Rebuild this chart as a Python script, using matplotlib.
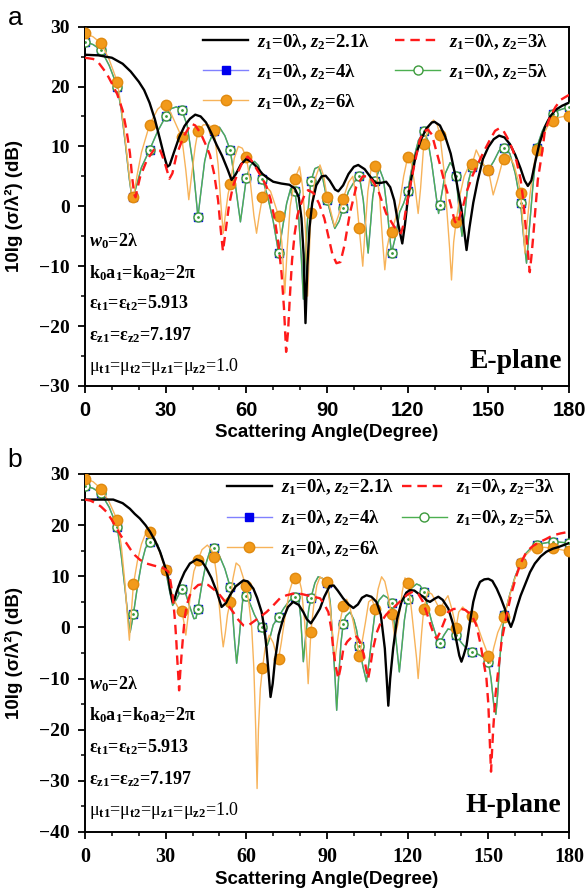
import numpy as np
import matplotlib
matplotlib.use('Agg')
import matplotlib.pyplot as plt
from matplotlib.ticker import MultipleLocator

# ---- (a) E-plane, (angle deg, 10lg(sigma/lambda^2) dB) ----
e_21 = [(0, 25.3), (5, 25.2), (10, 24.8), (14, 23.8), (17, 22.5), (20, 20.8), (22, 19.4), (24, 17.3),
        (26, 14.5), (28, 11), (29.5, 8.3), (30.6, 6.6), (31.5, 6.9), (33, 8.9), (35, 11.5), (37, 13.4),
        (39, 14.6), (41, 15.3), (43, 15), (45, 14), (47, 12.2), (49, 10.2), (51, 8.4), (53, 6.2),
        (54.5, 4.4), (56, 5.3), (58, 7), (60, 7.9), (62, 7.4), (64, 6.5), (66, 5.4), (68, 4.7), (70, 4.1),
        (73, 3.8), (76, 3.6), (78, 3), (79.5, 1.5), (80.5, -2), (81.3, -8), (82, -19.5), (82.7, -10),
        (83.5, -3.5), (84.5, 0.5), (86, 3.5), (88, 5), (89.5, 5.1), (91, 4.3), (93, 2.8), (94.2, 2.5),
        (96, 3.5), (98, 5.4), (100, 6.6), (101.6, 6.9), (104, 6.2), (106, 5), (108, 3.9), (110, 3.9),
        (112, 4.1), (113.5, 3.2), (115, 1), (116.5, -3), (118, -6.2), (119, -3), (120, 1), (121.5, 5),
        (123, 8.5), (125, 11.2), (127, 13), (129, 14), (130, 14.1), (132, 13.5), (134, 11.6), (136, 8.8),
        (138, 4.5), (140, -0.5), (141, -4), (141.9, -7.3), (143, -3.5), (144.4, 0.6), (146, 4.2),
        (148, 7.9), (150, 9.9), (152, 11.2), (154, 11.8), (156, 11.5), (158, 10.4), (160, 8.6), (162, 6.3),
        (163.5, 4.3), (164.7, 3.4), (166, 4.3), (167.5, 7.5), (169, 10.5), (171, 13.2), (173, 15),
        (175, 16.1), (177.5, 16.8), (180, 17.3)]

e_3 = [(0, 24.8), (3, 24.6), (5, 24), (8, 22.2), (10, 20.5), (12, 18.7), (14, 16), (15.5, 12.5),
       (16.7, 8.9), (17.5, 5), (18.3, 2), (18.8, 1.5), (19.5, 3), (20.5, 4.9), (23, 7.7), (26, 9.7),
       (28, 9.3), (29.5, 7.5), (31.4, 4.6), (32.5, 5.5), (34, 8.5), (36.6, 11.6), (39.5, 13.8), (41, 13.5),
       (43, 12.2), (45, 10.2), (46.5, 8.5), (48, 5.5), (49.5, 1), (50.5, -4), (51.3, -7.5), (52.2, -4.5),
       (53.5, 0), (55, 3.3), (57, 5.8), (58.5, 7.3), (60.5, 8.3), (62, 7.6), (64, 6.1), (66, 4.6),
       (67.5, 3.3), (69, 1.2), (70.6, -2.3), (72, -6.5), (73.1, -11.2), (74, -17), (74.8, -24.3),
       (75.5, -21), (76.2, -15), (77, -9), (78, -4.5), (79, -1.5), (80, 0), (82, 2.3), (83, 2.7), (85, 2.2),
       (87, 0.5), (89, -2), (90.5, -5), (92, -8), (93.5, -9.5), (95, -9.3), (96.5, -6.5), (98.5, -1.2),
       (100.9, 3.3), (103.3, 5), (105.5, 5), (107, 4.2), (109, 2.7), (112, -1.2), (115, -3.4),
       (117.5, -4.5), (118.5, -3), (119.5, 0), (121, 3.5), (122.5, 7), (124.5, 11.1), (126, 12.5),
       (127.5, 12.8), (129, 12), (130.5, 9.5), (132, 7), (134, 3.5), (136, 0.3), (137.5, -2.5), (138.5, -3),
       (139.5, -1.5), (140.6, 0), (142, 2.5), (144, 5), (146, 7), (148.5, 9.3), (150.6, 11.1),
       (152.5, 12.6), (154, 13), (155.5, 12.7), (157, 11.5), (159, 9.5), (160.5, 7.5), (162, 4.5), (163, 1),
       (164, -4), (164.8, -8), (165.4, -11), (166, -8.5), (166.7, -5), (167.5, -0.5), (168.4, 4.4),
       (170, 9), (171, 12.5), (173, 15), (175, 16.6), (177, 17.8), (180, 18.6)]

e_5 = [(0, 27.5), (3, 27), (6, 26.1), (9, 23.5), (12, 20), (13.5, 16), (15, 10.5), (16.5, 4.5),
       (17.5, 1.3), (18, 1.6), (19.5, 4), (21, 6.5), (24, 9.4), (27, 12.5), (30, 15), (32, 16.3),
       (34, 16.6), (36, 16.1), (38, 13.5), (40, 7.5), (41.3, 1.5), (42, -1.8), (43, 2), (44.5, 7.5),
       (46, 10.5), (48, 12.5), (50, 13.2), (52, 11.8), (54, 9.4), (55.5, 5), (57, 0), (57.8, -2.6),
       (58.6, 0), (60, 4.7), (61.5, 6.8), (63, 7.5), (64.5, 6.8), (66, 4.6), (68, 1.5), (70, -2.5),
       (72, -7.8), (73.5, -3.5), (75, 0.5), (76.5, 3), (78, 2.6), (79.5, -2), (80.5, -9), (81.2, -15.5),
       (82, -8), (83, -0.5), (84, 4.2), (85.5, 6.3), (87, 6.6), (88.5, 4.5), (90, 1.1), (91.5, -1.5),
       (92.9, -3.7), (94.5, -2.5), (96, -0.3), (98, 2.5), (100, 4), (102, 5.1), (103.5, 1), (104.5, -4),
       (105.3, -7.8), (106.2, -3), (107, 1.5), (108, 4.3), (109.5, 6.3), (111, 4.5), (112.5, -1),
       (113.3, -5), (114, -7.8), (115.5, -5), (117, -1), (118.5, 0.5), (120, 2.5), (122, 7.5), (124, 11),
       (126, 12.5), (127.5, 11), (129, 7), (130.5, 2), (131.5, -1.2), (132, 0.3), (134, 5.5), (135.8, 7.3),
       (137, 6.5), (138, 5.1), (139, 0), (140.2, -5), (141.3, -1), (142.5, 4), (144, 6.6), (146, 7.4),
       (148, 7), (150, 6.1), (152, 7.5), (154, 9.3), (156, 9.8), (158, 8.8), (160, 5.5), (162, 0.5),
       (163.2, -5.5), (164.2, -9.5), (165.2, -4), (166.5, 3), (168, 9.8), (170, 12.5), (172, 14.3),
       (174, 15.4), (176, 16), (178, 16.3), (180, 16.6)]

e_4 = e_5  # the 4-lambda curve lies under the 5-lambda one everywhere

e_6 = [(0, 28.9), (3, 28.3), (6, 27.2), (9, 24.5), (12, 20.8), (13.5, 16.5), (15, 11), (16.5, 5),
       (17.5, 1.4), (18, 1.5), (19.5, 5.5), (21, 9), (24, 13.6), (27, 16.2), (29, 17), (30, 16.9),
       (32, 15.5), (34, 13.5), (36, 11.5), (37.5, 6), (38.6, 1.1), (39.6, 5), (41, 10), (42, 12.5),
       (44, 13.6), (46, 13.6), (48, 12.7), (49.5, 7), (50.6, 0), (51.4, -4.5), (52.3, -1), (53.2, 2),
       (54, 3.7), (55.5, 8), (57, 10), (58.5, 9.7), (60, 8.2), (61.5, 4), (62.8, -1.5), (63.8, -4.5),
       (64.8, -1.5), (66, 1.6), (67.5, 3.2), (69, 2.5), (70.5, 0.5), (72, -1.6), (73.2, -6), (74.3, -14.5),
       (75.2, -7), (76.3, 0), (78, 4.5), (79.8, 6.6), (81, 3), (82, -4), (82.8, -15), (83.5, -7),
       (84, -1.1), (85.5, 4.5), (87.4, 6.9), (88.8, 5), (90, 1.6), (91.5, -1), (92.8, -3.4), (94.3, -1.5),
       (96, 1.2), (98, 4), (99.6, 5), (101, 1), (102, -3.7), (102.7, -7), (103.3, -10), (104, -5),
       (105.2, 2.5), (106.5, 6.5), (107.5, 7.2), (108, 6.8), (109.5, 2), (110.7, -6), (111.5, -10.6),
       (112.3, -7), (113.2, -5), (114, -4.3), (115.5, -2), (117, 0.5), (118.5, 5), (120, 8.2), (121.5, 7),
       (122.8, 3), (123.9, -1.2), (124.8, 3), (126, 10.4), (128, 13.5), (129.6, 14.4), (131, 13.6),
       (132, 11.9), (133.5, 6), (134.8, -2), (135.6, -7), (136.3, -12.3), (137.1, -6), (138, -2.6),
       (139.5, 2), (141, 5), (143, 7), (144, 7.1), (145.5, 9.4), (147, 8), (148.5, 6.8), (150, 6.1),
       (151.8, 1.9), (153.5, 4.5), (155, 7), (156, 7.9), (157.5, 8.5), (159.5, 7), (161, 4.5), (162, 2.3),
       (162.9, -3), (163.6, -7.8), (164.4, -3), (165.5, 2), (166.8, 6.5), (168, 9.4), (170, 11.5),
       (172, 13.3), (174, 14.3), (176, 14.8), (178, 15), (180, 15)]

# ---- (b) H-plane ----
h_21 = [(0, 25), (5, 25), (10.5, 25), (14, 24.3), (16.7, 23.2), (18.5, 22.2), (20.4, 21.3), (22.5, 20),
        (24.2, 18.7), (26, 17), (27.9, 14.8), (29.5, 12.3), (31, 9.6), (31.8, 7), (32.6, 5), (33.3, 5.5),
        (34.1, 7), (35.5, 9), (37, 10.8), (39, 12.5), (41.5, 13.3), (43.5, 12.9), (45.2, 11.5), (47, 9.7),
        (49, 7), (50.8, 4), (52.5, 4.8), (53.9, 6.3), (56, 8), (58.9, 9.2), (60.5, 9), (62.6, 7.6),
        (64, 5.8), (65.7, 3), (66.8, -0.5), (67.5, -4.1), (68.3, -9), (69, -13.6), (69.8, -11),
        (70.6, -6.7), (72, -1.5), (73.7, 1.7), (75.5, 4), (77.4, 5), (79.5, 4.4), (81.2, 3), (82.5, 1.6),
        (84, 0.8), (85.5, 2), (87.4, 3.7), (89, 6), (91, 8.1), (92.5, 8.2), (94, 7.2), (96, 5.7), (98, 4.5),
        (99.8, 3.8), (101.5, 4.5), (103, 5.8), (104.7, 6.3), (106.5, 6), (108.4, 5), (110, 2.5),
        (111.5, -4.1), (112.2, -10), (112.8, -15.3), (113.5, -10), (114.6, -4.1), (116, 1.5), (117.7, 5),
        (119.5, 6.8), (120.8, 7.3), (122.5, 7.2), (124, 6.6), (125.8, 6), (127, 5.3), (128.3, 5),
        (130, 5.6), (131.4, 6), (133, 5.4), (135.1, 3.7), (136.8, 0.8), (138.2, -2.8), (139.2, -5.5),
        (140, -6.7), (140.8, -5.5), (141.9, -3.5), (143, 0.5), (144.4, 5), (145.5, 7.2), (146.9, 8.9),
        (148.5, 9.4), (150, 9.5), (151.5, 9.1), (153.1, 7.6), (154.6, 5.8), (156.1, 3.7), (157.3, 1.5),
        (158.4, 0.1), (159.4, 1.5), (160.5, 3.7), (162, 6.2), (163.6, 8.3), (165.5, 10.8), (167.3, 12.5),
        (169.5, 13.9), (171.6, 14.8), (174, 15.4), (176, 15.7), (178, 16.1), (180, 16.5)]

h_3 = [(0, 25), (2, 24.8), (4.3, 24.2), (6, 23.6), (8, 22.6), (10, 21), (11.8, 19.3), (13.5, 17.8),
       (15.5, 16.4), (17, 15.2), (18.6, 14.1), (20.5, 13.2), (22.9, 12.5), (25.5, 12.1), (27.9, 11.8),
       (29.5, 11.5), (31, 10.9), (31.8, 9), (32.6, 6.3), (33.1, 3.5), (33.5, 1.1), (34, -3), (34.3, -6.1),
       (34.7, -9.5), (35, -12.3), (35.4, -9), (35.9, -5.4), (36.5, -1.5), (37.2, 2.4), (38, 4.6), (39, 6.3),
       (40.5, 7.5), (42.1, 8.3), (44, 8.5), (45.8, 8.3), (48, 7.4), (50.2, 6.3), (52.5, 4.8), (55.1, 3),
       (57, 1.5), (58.9, 0.4), (60.5, 0.3), (62.6, 1.1), (65, 2), (67.5, 3), (70, 4.3), (72.5, 5.7),
       (75, 6.3), (77.4, 6.6), (80, 6.6), (82.4, 6.3), (85, 6), (87.4, 5.7), (89, 4.5), (90.5, 3),
       (91.5, 0), (92.3, -4.1), (93.2, -7.5), (94.2, -10), (95, -8), (96.1, -4.1), (97.5, -2.8), (99, -2),
       (100.5, -1.5), (102, -2.5), (103.5, -5), (104.5, -8), (105.3, -10), (106, -8), (107, -4.5),
       (108.5, -1), (110, 1), (112, 2.5), (114, 3.5), (116, 4.5), (118, 5.5), (120, 6.5), (122, 7),
       (124, 6.5), (125.5, 5.2), (127, 3), (128.5, 0.5), (129.8, -1.5), (130.8, -2.2), (132, -1),
       (133.5, 1), (135, 3), (137, 3.6), (139.4, 3.7), (141.5, 3.4), (143.8, 2.4), (145.5, 0.5),
       (146.9, -2.8), (148, -6), (149.3, -10), (150, -15), (150.6, -23), (151, -28.2), (151.4, -24),
       (151.8, -20), (152.7, -13), (153.7, -8.3), (155, -2.5), (156.8, 2.4), (158.5, 6.5), (160.5, 10.2),
       (162, 12.5), (164.2, 14.8), (166.5, 15.9), (169.1, 16.7), (171.5, 17.3), (174, 18), (177, 18.4),
       (180, 18.7)]

h_5 = [(0, 27.7), (3, 27.2), (6, 26.2), (9, 23.5), (12, 19.6), (13.5, 14), (15, 7), (16, 2), (16.8, -0.9),
       (17.3, 0.5), (18, 2.6), (19.5, 8), (21, 12.5), (22.5, 15.5), (24, 16.7), (25.5, 17.2), (27, 16.2),
       (28.5, 14), (30, 11.2), (31.3, 7.5), (32.6, 4.3), (34, 5.5), (36, 7.6), (37.2, 7), (39, 4),
       (40.5, 1.7), (41.3, 1.8), (42, 3.7), (43.5, 8.5), (45, 12.5), (46.5, 15), (47.7, 15.7), (48, 15.5),
       (50, 14), (52, 11.5), (54, 7.9), (55, 2), (55.7, -3), (56.4, -7), (57.2, -3), (58.2, 3), (59, 7),
       (60, 6.1), (61.5, 4.5), (63, 2.5), (64.5, 1), (66, 0), (67, -2), (67.8, -3.5), (68.8, -2),
       (70, 0.5), (72, 2.1), (74, 3.8), (76, 5.2), (78, 6), (79.3, 6.3), (80.2, 2), (81.2, -6.7),
       (82.2, -1), (83.2, 3.5), (84, 5.7), (85.5, 8.7), (86.7, 9.9), (88.3, 9.6), (90, 8.6), (91.2, 5),
       (92.2, -3), (93, -10), (93.6, -16.2), (94.3, -10), (95.2, -3), (96, 0.6), (97, 2.2), (98.6, 3),
       (100, 1.5), (101, -0.5), (102, -3.6), (103.3, -7.5), (104.7, -10.6), (105.8, -6), (106.8, -1.5),
       (107.8, 2.7), (109.3, 5.3), (111, 6.3), (112.5, 5.8), (114, 4.7), (115, 1), (116, -4),
       (116.9, -8.7), (117.8, -4), (118.8, 1.5), (120, 5.5), (121.5, 7.7), (123.3, 8.5), (124.6, 8.2),
       (126, 7), (127.5, 4), (129, 1), (130.5, -1.5), (132, -3), (133.5, -1.5), (135, -0.3),
       (136.5, -0.5), (138, -1.5), (140, -3), (142, -4.2), (144, -4.9), (146, -5.2), (148, -5.8),
       (150, -6.7), (151, -10), (152, -15), (152.8, -17), (153.5, -13), (154.3, -6), (155.1, -1), (156, 2.4),
       (158, 6.5), (160, 10), (162, 12.6), (164, 14.5), (166, 15.6), (168, 16.2), (170, 16.4), (172, 16.6),
       (174, 16.7), (176, 16.7), (178, 16.6), (180, 16.5)]

h_4 = h_5

h_6 = [(0, 29.1), (3, 28.5), (6, 27.1), (9, 24.5), (12, 21), (13.5, 16), (14.8, 9), (15.8, 2), (16.5, -2.5),
       (17.1, 2), (18, 8.4), (19.5, 13), (21, 16.3), (22.5, 18.3), (24, 18.7), (25.5, 17.8), (27, 16),
       (28.5, 13.5), (30, 11.2), (31.5, 8.2), (33, 5.5), (34.5, 4), (36, 3.2), (36.8, 1), (37.5, -1.5),
       (38.3, 2), (39.3, 7), (40.5, 11), (42, 13.1), (43.5, 15.2), (45.5, 16.1), (47, 15.2), (48, 13.8),
       (49, 10), (50, 4), (50.8, -1), (51.4, -3.8), (52.2, -1), (53, 2.5), (54, 5), (55, 9.5), (56.2, 12.6),
       (57.5, 12), (59, 9.5), (60, 8.1), (61, 4.5), (62, 0), (62.8, -8), (63.5, -20), (64, -31.5),
       (64.5, -20), (65.2, -12), (66, -8), (67, -4), (68.5, -1.5), (70, -3), (71, -5), (72, -6.1), (73, -3),
       (74.5, 2.5), (76, 7), (77.5, 9.5), (78, 9.7), (79.3, 10.2), (80.5, 7.5), (81.7, 1), (82.5, -6),
       (83, -11), (83.5, -6), (84, -0.9), (85, 4), (86.2, 8.2), (87.4, 9.9), (88.8, 9.3), (90, 8.8),
       (91.2, 4), (92.2, -2), (92.9, -6.5), (93.8, -3), (95, 1.5), (96, 4.2), (97.3, 5.5), (98.5, 4),
       (99.8, 1), (101, -2.5), (102, -5.6), (103, -3), (104.3, 1), (105.5, 5), (106.7, 5.5), (108, 3.7),
       (109, 7.5), (110.3, 9.9), (111.5, 9), (112.8, 6), (114, 2.6), (115.2, -2), (116.5, 1), (118, 7),
       (119, 9.7), (120, 8.6), (121.3, 4), (122.5, -2), (123.3, -6), (123.9, -10), (124.5, -6),
       (125.2, -1), (126, 3.7), (127.5, 7), (129, 6.5), (130.5, 5), (132, 3.5), (133.5, 5), (135, 6.2),
       (136.5, 3.5), (138, -0.1), (139, 3), (140.5, 4), (142, 3), (144, 2.3), (145.5, 1), (147.5, -2),
       (150, -5.5), (150.8, -7), (152, -4), (153.5, -1), (155, 0.8), (156, 2.1), (157.5, 5.5), (159.5, 9),
       (162, 12.6), (164, 14.2), (166, 15.2), (168, 15.5), (170, 15.7), (172, 15.6), (174, 15.5),
       (176, 15.3), (178, 15.1), (180, 14.9)]

labels = [r'$z_1$=0λ, $z_2$=2.1λ', r'$z_1$=0λ, $z_2$=3λ', r'$z_1$=0λ, $z_2$=4λ',
          r'$z_1$=0λ, $z_2$=5λ', r'$z_1$=0λ, $z_2$=6λ']
params = [r'$w_0$=2λ', r'k$_0$a$_1$=k$_0$a$_2$=2π', r'ε$_\mathrm{t1}$=ε$_\mathrm{t2}$=5.913',
          r'ε$_\mathrm{z1}$=ε$_\mathrm{z2}$=7.197', r'μ$_\mathrm{t1}$=μ$_\mathrm{t2}$=μ$_\mathrm{z1}$=μ$_\mathrm{z2}$=1.0']

plt.rcParams['mathtext.fontset'] = 'custom'
plt.rcParams['mathtext.rm'] = 'Liberation Serif:bold'
plt.rcParams['mathtext.it'] = 'Liberation Serif:italic:bold'
plt.rcParams['mathtext.bf'] = 'Liberation Serif:bold'

SERIF = 'Liberation Serif'
SANS = 'Liberation Sans'


def six_deg(ang):
    # symbols sit on every 6th degree
    return [i for i, a in enumerate(ang) if a % 6 == 0]


def panel(ax, s21, s3, s4, s5, s6, ymin, xfont, plane, leg_xy, colsp, lsp, param_y):
    a21, d21 = np.array(s21).T
    a3, d3 = np.array(s3).T
    a4, d4 = np.array(s4).T
    a5, d5 = np.array(s5).T
    a6, d6 = np.array(s6).T

    h4, = ax.plot(a4, d4, color='#8080ff', lw=1.0, marker='s', ms=5.5, mfc='#0000ee', mec='#0000ee',
                  markevery=six_deg(a4), zorder=2)
    h5, = ax.plot(a5, d5, color='#4caf50', lw=1.0, marker='o', ms=6.5, mfc='white', mec='#3c9a3c',
                  mew=1.0, markevery=six_deg(a5), zorder=3)
    ax.plot(a5, d5, ls='none', marker='.', ms=2, color='#3c9a3c', markevery=six_deg(a5), zorder=3)
    h6, = ax.plot(a6, d6, color='#f7b35a', lw=1.0, marker='o', ms=7.5, mfc='#f29a1a', mec='#e08a10',
                  markevery=six_deg(a6), zorder=4)
    h21, = ax.plot(a21, d21, color='black', lw=1.7, zorder=5)
    h3, = ax.plot(a3, d3, color='#ff1a1a', lw=1.7, ls=(0, (4, 2.5)), zorder=6)

    ax.set_xlim(0, 180)
    ax.set_ylim(ymin, 30)
    ax.xaxis.set_major_locator(MultipleLocator(30))
    ax.xaxis.set_minor_locator(MultipleLocator(10))
    ax.yaxis.set_major_locator(MultipleLocator(10))
    ax.yaxis.set_minor_locator(MultipleLocator(5))
    ax.tick_params(which='major', direction='out', length=5, width=1.3, pad=6)
    ax.tick_params(which='minor', direction='out', length=3, width=1.1)
    for sp in ax.spines.values():
        sp.set_linewidth(1.4)
    for t in ax.get_yticklabels():
        t.set_fontfamily(SERIF)
        t.set_fontweight('bold')
        t.set_fontsize(14)
    for t in ax.get_xticklabels():
        t.set_fontfamily(xfont)
        t.set_fontweight('bold')
        t.set_fontsize(14.5)

    ax.set_xlabel('Scattering Angle(Degree)', fontfamily=SANS, fontweight='bold', fontsize=13.5,
                  labelpad=3)
    ax.set_ylabel('10lg (σ/λ²) (dB)', fontfamily=SANS, fontweight='bold', fontsize=13.5)
    ax.yaxis.set_label_coords(-0.128, 0.5)

    ax.legend([h21, h4, h6, h3, h5], [labels[0], labels[2], labels[4], labels[1], labels[3]],
              ncol=2, loc='upper left', bbox_to_anchor=leg_xy, frameon=False, borderpad=0,
              borderaxespad=0, handlelength=2.4, handletextpad=0.5, columnspacing=colsp,
              labelspacing=lsp, prop={'family': SERIF, 'weight': 'bold', 'size': 13.5})

    for k, (txt, yy) in enumerate(zip(params, param_y)):
        ax.text(0.008, yy, txt, transform=ax.transAxes, ha='left', va='center', fontsize=13,
                fontfamily=SERIF, fontweight='normal' if k == 4 else 'bold')
    ax.text(0.985, 0.068 if plane == 'E-plane' else 0.075, plane, transform=ax.transAxes,
            ha='right', va='center', fontsize=20, fontfamily=SERIF, fontweight='bold')


fig = plt.figure(figsize=(5.87, 8.92), dpi=100)
ax_a = fig.add_axes([85 / 587, 1 - 386 / 892, 484 / 587, 359.4 / 892])
ax_b = fig.add_axes([85 / 587, 1 - 832 / 892, 484 / 587, 358 / 892])

panel(ax_a, e_21, e_3, e_4, e_5, e_6, -30, SANS, 'E-plane', (0.244, 0.985), 1.3, 0.56,
      [0.402, 0.315, 0.231, 0.142, 0.053])
panel(ax_b, h_21, h_3, h_4, h_5, h_6, -40, SERIF, 'H-plane', (0.293, 0.99), 0.4, 0.6,
      [0.414, 0.326, 0.237, 0.149, 0.061])

fig.text(15 / 587, 1 - 18 / 892, 'a', fontsize=19, fontfamily=SANS, ha='center', va='center')
fig.text(15 / 587, 1 - 460 / 892, 'b', fontsize=19, fontfamily=SANS, ha='center', va='center')

fig.savefig('out.png', dpi=100)
